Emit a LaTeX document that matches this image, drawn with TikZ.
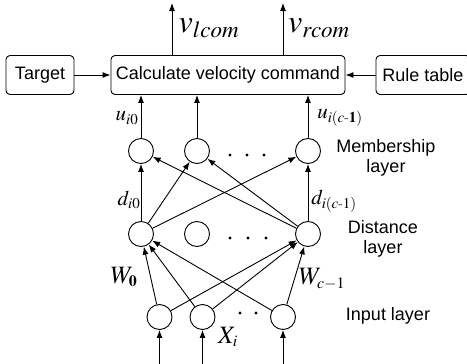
\documentclass[tikz,border=0pt]{standalone}
\usepackage{amsmath}
\usepackage{mathptmx}
\usepackage{fontspec}
\setsansfont{Liberation Sans}
\usetikzlibrary{arrows.meta}
\DeclareMathSizes{21}{21}{15}{11}
\DeclareMathSizes{25}{25}{16}{12}
\DeclareMathSizes{32}{32}{23}{16}

\begin{document}
\begin{tikzpicture}[x=1pt,y=-1pt,line width=0.9pt,>={Latex[length=8pt,width=6pt]},
  box/.style={draw,rounded corners=4pt,minimum height=39pt,inner sep=0pt,font=\sffamily\fontsize{18}{20}\selectfont},
  neuron/.style={draw,circle,minimum size=25pt,inner sep=0pt},
  layertext/.style={font=\sffamily\fontsize{18}{20.5}\selectfont,align=center},
  sym/.style={font=\fontsize{21}{23}\selectfont},
  bigsym/.style={font=\fontsize{25}{27}\selectfont},
  vsym/.style={font=\fontsize{32}{34}\selectfont}]
  \useasboundingbox (0,0) rectangle (467,364);
  % command block with its two side inputs
  \node[box,minimum width=234pt] (calc) at (228,75) {Calculate velocity command};
  \node[box,minimum width=68pt] (target) at (40,75) {Target};
  \node[box,minimum width=94pt] (rule) at (423,75) {Rule table};
  \draw[->] (target) -- (calc);
  \draw[->] (rule) -- (calc);
  % velocity outputs
  \coordinate (vl) at (172,3);
  \coordinate (vr) at (283,3);
  \draw[->] (vl |- calc.north) -- (vl);
  \draw[->] (vr |- calc.north) -- (vr);
  \node[vsym] (vlcom) at (209,28) {$v_{lcom}$};
  \node[vsym] (vrcom) at (319,28) {$v_{rcom}$};
  % membership and distance layers
  \foreach \n/\x in {0/141,1/197,2/308} {
    \node[neuron] (m\n) at (\x,151) {};
    \node[neuron] (d\n) at (\x,234) {};
  }
  % input layer
  \foreach \n/\x in {0/159.5,1/202.5,2/283} {
    \node[neuron] (i\n) at (\x,317) {};
    \coordinate (x\n) at (\x,366);
    \draw[->] (x\n) -- (i\n);
  }
  \foreach \x in {230,247,264} \fill (\x,155) circle (1.6pt);
  \foreach \x in {230,248,266} \fill (\x,238) circle (1.6pt);
  \foreach \x in {240,256} \fill (\x,313) circle (1.6pt);
  % connections
  \foreach \a in {0,2} \foreach \b in {0,1,2} \draw[->] (d\a) -- (m\b);
  \foreach \a in {0,1,2} \foreach \b in {0,2} \draw[->] (i\a) -- (d\b);
  \foreach \n in {0,1,2} \draw[->] (m\n) -- (m\n |- calc.south);
  % labels
  \node[sym] (ui0) at (127,118) {$u_{i0}$};
  \node[sym] (uic) at (340,118) {$u_{i(c\text{-}\mathbf{1})}$};
  \node[sym] (di0) at (129,200) {$d_{i0}$};
  \node[sym] (dic) at (334,201) {$d_{i(c\text{-}1)}$};
  \node[bigsym] (w0) at (124,277) {$W_{\mathbf{0}}$};
  \node[bigsym] (wc) at (322,279) {$W_{c-1}$};
  \node[bigsym] (xi) at (228,337) {$X_i$};
  \node[layertext] (memtext) at (386,158) {Membership\\layer};
  \node[layertext] (disttext) at (383,239) {Distance\\layer};
  \node[layertext] (intext) at (388,316) {Input layer};
\end{tikzpicture}
\end{document}
